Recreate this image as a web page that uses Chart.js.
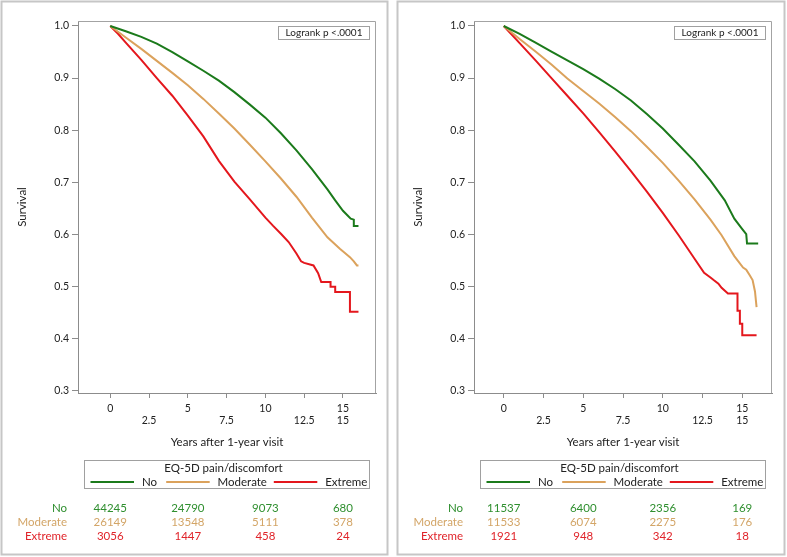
<!DOCTYPE html>
<html>
<head>
<meta charset="utf-8">
<script src="https://cdn.jsdelivr.net/npm/chart.js@4"></script>
<style>
  html, body { margin: 0; padding: 0; background: #fff; }
  #wrap { position: relative; width: 787px; height: 557px; }
  canvas { position: absolute; top: 0; }
</style>
</head>
<body>
<div id="wrap">
  <canvas id="chartA" width="393" height="557" style="left:0"></canvas>
  <canvas id="chartB" width="394" height="557" style="left:393px"></canvas>
</div>
<script>
// axis ticks
const xTicks = [0, 2.5, 5, 7.5, 10, 12.5, 15];
const xTickRow1 = ['0', '', '5', '', '10', '', '15'];
const xTickRow2 = ['', '2.5', '', '7.5', '', '12.5', '15'];
const yTicks = [0.3, 0.4, 0.5, 0.6, 0.7, 0.8, 0.9, 1.0];
const groups = ['No', 'Moderate', 'Extreme'];
const riskTimes = [0, 5, 10, 15];

// left panel - survival curves (years, survival)
const noTimeA = [0, 1, 2, 3, 4, 5, 6, 7, 8, 9, 10, 11, 12, 13, 14, 14.5, 15, 15.3, 15.5, 15.7, 15.7, 16.0];
const noSurvA = [1, 0.990, 0.979, 0.966, 0.950, 0.932, 0.914, 0.895, 0.873, 0.849, 0.824, 0.794, 0.761, 0.725, 0.686, 0.665, 0.645, 0.636, 0.630, 0.628, 0.616, 0.616];
const modTimeA = [0, 1, 2, 3, 4, 5, 6, 7, 8, 9, 10, 11, 12, 13, 14, 14.8, 15.45, 15.7, 15.9, 16.0];
const modSurvA = [1, 0.978, 0.956, 0.933, 0.910, 0.886, 0.860, 0.832, 0.803, 0.772, 0.740, 0.707, 0.672, 0.632, 0.594, 0.572, 0.556, 0.548, 0.540, 0.540];
const extTimeA = [0, 0.5, 1, 2, 3, 4, 5, 6, 7, 8, 9, 10, 10.5, 11, 11.5, 12, 12.3, 12.5, 13.1, 13.4, 13.6, 14.2, 14.2, 14.5, 14.5, 15.45, 15.45, 16.0];
const extSurvA = [1, 0.985, 0.968, 0.935, 0.900, 0.866, 0.828, 0.788, 0.741, 0.701, 0.667, 0.632, 0.616, 0.601, 0.585, 0.563, 0.548, 0.545, 0.540, 0.525, 0.508, 0.508, 0.499, 0.499, 0.489, 0.489, 0.451, 0.451];
const riskNoA = [44245, 24790, 9073, 680];
const riskModA = [26149, 13548, 5111, 378];
const riskExtA = [3056, 1447, 458, 24];

// right panel
const noTimeB = [0, 1, 2, 3, 4, 5, 6, 7, 8, 9, 10, 11, 12, 13, 13.9, 14.5, 15.0, 15.25, 15.3, 16.0];
const noSurvB = [1, 0.985, 0.968, 0.951, 0.934, 0.917, 0.899, 0.879, 0.857, 0.831, 0.803, 0.772, 0.740, 0.703, 0.665, 0.630, 0.610, 0.600, 0.582, 0.582];
const modTimeB = [0, 1, 2, 3, 4, 5, 6, 7, 8, 9, 10, 11, 12, 13, 13.7, 14.5, 15.05, 15.25, 15.45, 15.65, 15.8, 15.85, 15.9];
const modSurvB = [1, 0.975, 0.951, 0.926, 0.899, 0.875, 0.851, 0.825, 0.798, 0.768, 0.737, 0.703, 0.667, 0.628, 0.598, 0.558, 0.536, 0.532, 0.522, 0.512, 0.490, 0.475, 0.460];
const extTimeB = [0, 1, 2, 3, 4, 5, 6, 7, 8, 9, 10, 11, 12, 12.6, 13.0, 13.2, 13.5, 13.7, 14.1, 14.7, 14.7, 14.85, 14.85, 15.0, 15.0, 15.9];
const extSurvB = [1, 0.967, 0.934, 0.900, 0.866, 0.832, 0.796, 0.759, 0.721, 0.682, 0.641, 0.598, 0.553, 0.526, 0.517, 0.512, 0.505, 0.497, 0.486, 0.486, 0.453, 0.453, 0.428, 0.428, 0.406, 0.406];
const riskNoB = [11537, 6400, 2356, 169];
const riskModB = [11533, 6074, 2275, 176];
const riskExtB = [1921, 948, 342, 18];

const lineColors = ['#1b7a1b', '#dba25c', '#e4171d'];
const textColors = ['#2f8f2f', '#d3a567', '#e0242a'];

Chart.defaults.font.family = 'Lato, "Open Sans", sans-serif';
Chart.defaults.color = '#222';

function pts(ts, ss) {
  return ts.map((t, i) => ({ x: t, y: ss[i] }));
}

const decor = {
  id: 'decor',
  afterDraw(chart, args, o) {
    const ctx = chart.ctx;
    const a = chart.chartArea;
    const xs = chart.scales.x;
    ctx.save();

    // panel border
    ctx.strokeStyle = '#c6c6c6';
    ctx.lineWidth = 2;
    ctx.strokeRect(o.bx, 1.5, o.bw, 553);

    // top and right frame of plot
    ctx.strokeStyle = '#a3a3a3';
    ctx.lineWidth = 1;
    ctx.beginPath();
    ctx.moveTo(a.left, a.top + 0.5);
    ctx.lineTo(a.right - 0.5, a.top + 0.5);
    ctx.lineTo(a.right - 0.5, a.bottom);
    ctx.stroke();

    // logrank box
    ctx.strokeStyle = '#a0a0a0';
    ctx.strokeRect(a.right - 97.5, 26.5, 91, 13);
    ctx.fillStyle = '#222';
    ctx.font = '10px Lato';
    ctx.textAlign = 'center';
    ctx.textBaseline = 'middle';
    ctx.fillText('Logrank p <.0001', a.right - 52, 33.2);

    // legend
    const lx = a.left + 6.5;
    const lw = a.right - a.left - 13;
    ctx.strokeStyle = '#a0a0a0';
    ctx.strokeRect(lx, 460.5, lw, 28);
    ctx.font = '11.5px Lato';
    ctx.fillText('EQ-5D pain/discomfort', lx + 139, 468.5);
    const lineStart = [6, 81.7, 189.3];
    const textStart = [57.5, 133, 240.7];
    ctx.textAlign = 'left';
    chart.data.datasets.forEach((ds, i) => {
      ctx.strokeStyle = ds.borderColor;
      ctx.lineWidth = 2;
      ctx.beginPath();
      ctx.moveTo(lx + lineStart[i], 482);
      ctx.lineTo(lx + lineStart[i] + 43.5, 482);
      ctx.stroke();
      ctx.fillStyle = '#222';
      ctx.fillText(ds.label, lx + textStart[i], 482);
    });

    // number at risk
    const rowY = [508.5, 522.5, 536.5];
    ctx.font = '11.5px Lato';
    o.risk.forEach((row, i) => {
      ctx.fillStyle = textColors[i];
      ctx.textAlign = 'right';
      ctx.fillText(groups[i], a.left - 11, rowY[i]);
      ctx.textAlign = 'center';
      row.forEach((n, j) => {
        ctx.fillText(String(n), xs.getPixelForValue(riskTimes[j]), rowY[i]);
      });
    });
    ctx.restore();
  }
};

function makeChart(id, series, risk, p) {
  return new Chart(document.getElementById(id), {
    type: 'line',
    data: {
      datasets: series.map((s, i) => ({
        label: groups[i],
        data: pts(s[0], s[1]),
        borderColor: lineColors[i],
        borderWidth: 2,
        pointRadius: 0,
        tension: 0,
        fill: false
      }))
    },
    options: {
      responsive: false,
      animation: false,
      layout: { padding: { left: 0, right: p.padRight, top: 21, bottom: 108 } },
      plugins: {
        legend: { display: false },
        tooltip: { enabled: false },
        decor: { risk: risk, bx: p.bx, bw: p.bw }
      },
      scales: {
        x: {
          type: 'linear',
          min: p.xMin,
          max: p.xMax,
          afterBuildTicks: s => { s.ticks = xTicks.map(v => ({ value: v })); },
          afterFit: s => { s.height = 56; },
          grid: { drawOnChartArea: false, drawTicks: true, tickLength: 5, color: '#8c8c8c' },
          border: { display: true, color: '#8c8c8c' },
          ticks: {
            autoSkip: false,
            maxRotation: 0,
            padding: 4,
            font: { size: 10.5 },
            color: '#222',
            callback: (v, i) => [xTickRow1[i], xTickRow2[i]]
          },
          title: {
            display: true,
            text: 'Years after 1-year visit',
            font: { size: 11.5 },
            color: '#222',
            padding: { top: 0, bottom: 0 }
          }
        },
        y: {
          min: 0.295,
          max: 1.0096,
          afterBuildTicks: s => { s.ticks = yTicks.map(v => ({ value: v })); },
          afterFit: s => { s.width = p.yWidth; },
          grid: { drawOnChartArea: false, drawTicks: true, tickLength: 6, color: '#8c8c8c' },
          border: { display: true, color: '#8c8c8c' },
          ticks: {
            padding: 3,
            font: { size: 10.5 },
            color: '#222',
            callback: v => v.toFixed(1)
          },
          title: {
            display: true,
            text: 'Survival',
            font: { size: 11.5 },
            color: '#222',
            padding: { top: p.yTitlePad, bottom: 0 }
          }
        }
      }
    },
    plugins: [decor]
  });
}

makeChart('chartA',
  [[noTimeA, noSurvA], [modTimeA, modSurvA], [extTimeA, extSurvA]],
  [riskNoA, riskModA, riskExtA],
  { padRight: 17, yWidth: 78, xMin: -2.08, xMax: 17.13, yTitlePad: 15.8, bx: 1.5, bw: 386 });

makeChart('chartB',
  [[noTimeB, noSurvB], [modTimeB, modSurvB], [extTimeB, extSurvB]],
  [riskNoB, riskModB, riskExtB],
  { padRight: 15, yWidth: 81, xMin: -1.87, xMax: 16.87, yTitlePad: 18.4, bx: 4.5, bw: 387 });
</script>
</body>
</html>
